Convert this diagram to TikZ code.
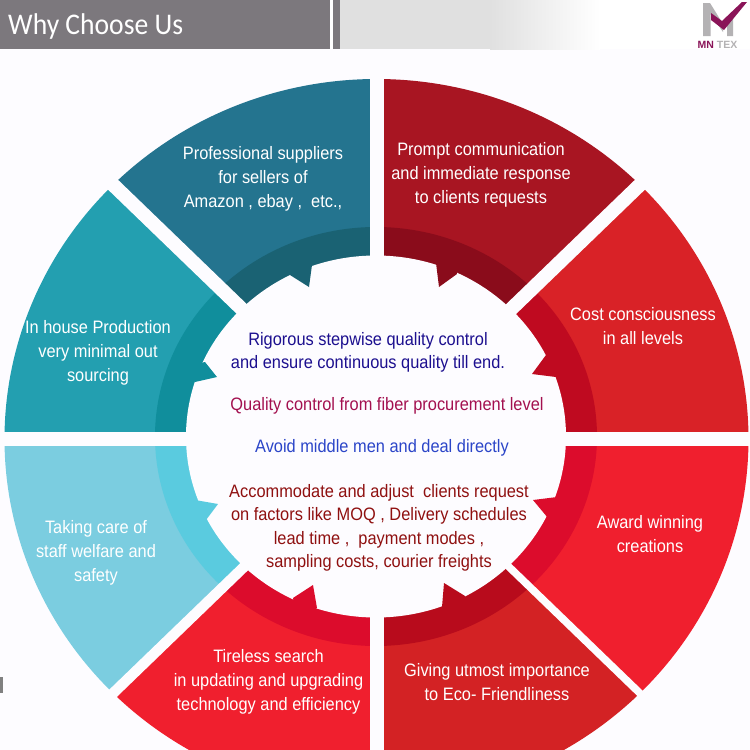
\documentclass[tikz,border=0pt]{standalone}
\usepackage{fontspec}
\setmainfont[FakeStretch=0.91]{Liberation Sans}
\newfontfamily\titlefont[FakeStretch=0.92]{Carlito}
\newfontfamily\logofont{Liberation Sans}
\usetikzlibrary{calc}

\definecolor{paper}{HTML}{FDFCFF}
\definecolor{headgray}{HTML}{7C787D}
\definecolor{headlight}{HTML}{E0E0E0}
\definecolor{logomag}{HTML}{8A1458}
\definecolor{logogray}{HTML}{B4B2B4}

\begin{document}
\begin{tikzpicture}[x=1pt, y=-1pt,
  wedgetext/.style={align=center, text=white, font=\fontsize{18}{24}\selectfont},
  hubtext/.style={align=center, font=\fontsize{18}{23.5}\selectfont},
  gapline/.style={draw=paper, line cap=butt}]
  \useasboundingbox (0,0) rectangle (750,750);
  \clip (0,0) rectangle (750,750);
  \fill[paper] (0,0) rectangle (750,750);
  \coordinate (hub) at (376.5,439);
  \coordinate (ring) at (376,436.5);

  \foreach \a/\outer/\inner in {
    -45/D92227/BF0A20, 0/F01F2E/DC0C2C, 45/D32224/B80B1C, 90/F01F2E/DC0C2C,
    135/7BCDE0/5ACBDF, 180/239FB0/108E9C, 225/24748F/1A6273, 270/A81522/8A0C1B} {
    \definecolor{outercol}{HTML}{\outer}
    \definecolor{innercol}{HTML}{\inner}
    \fill[outercol] (hub) -- ($(hub)+(\a:372 and 360)$)
      arc[start angle=\a, delta angle=45, x radius=372, y radius=360] -- cycle;
    \fill[innercol] (ring) -- ($(ring)+(\a:221 and 209.5)$)
      arc[start angle=\a, delta angle=45, x radius=221, y radius=209.5] -- cycle;
  }
  \fill[paper] (ring) ellipse[x radius=190, y radius=181];

  \foreach \px/\py/\tx/\ty/\qx/\qy/\inner in {
    290/275/309/287/312/265/1A6273, 436/263/439/287/457/274/8A0C1B,
    546/355/532/374/556/377/BF0A20, 557/497/533/500/548/518/DC0C2C,
    465/596/444/583/442/607/B80B1C, 293/598/313/585/317/608/DC0C2C,
    195/500/218/504/206/520/5ACBDF, 205/362/217/377/195/382/108E9C} {
    \definecolor{innercol}{HTML}{\inner}
    \fill[innercol] (\px,\py) -- (\tx,\ty) -- (\qx,\qy)
      -- ($(\px,\py)!0.5!(\qx,\qy)!-1!(\tx,\ty)$) -- cycle;
  }

  \foreach \a/\w in {0/14, 45/7.5, 90/14, 135/10.5, 180/14, 225/14, 270/14, 315/14}
    \draw[gapline, line width=\w pt] (hub) -- ($(hub)+(\a:430 and 415)$);

  \fill[headgray] (0,0) rectangle (330,49);
  \fill[white] (330,0) rectangle (333,49);
  \fill[headgray] (333,0) rectangle (340,49);
  \fill[headlight] (340,0) rectangle (490,49);
  \fill[left color=headlight, right color=white] (490,0) rectangle (600,49);
  \fill[white] (600,0) rectangle (750,49);

  \fill[logogray] (703,3) -- (710,3) -- (723,24) -- (723,32) -- (710.5,14) -- (710.5,36) -- (703,36) -- cycle;
  \fill[logogray] (727,22) -- (733,17) -- (733,36) -- (727,36) -- cycle;
  \fill[logomag] (711,13) -- (722,21) -- (742,2) -- (747,2) -- (724,30) -- (711,20) -- cycle;
  \node[inner sep=0pt, font=\logofont\fontsize{10.5}{10.5}\bfseries\selectfont] (logo) at (717.5,44.5)
    {\textcolor{logomag}{MN} \textcolor{logogray}{TEX}};
  \fill[gray] (0,677) rectangle (2.5,693);

  \node[inner sep=0pt, anchor=west, text=white, font=\titlefont\fontsize{30}{30}\selectfont]
    (title) at (8,26.5) {Why Choose Us};

  \node[wedgetext] (suppliers) at (263,179) {Professional suppliers\\for sellers of\\Amazon , ebay ,\ \ etc.,};
  \node[wedgetext] (prompt) at (481,175) {Prompt communication\\and immediate response\\to clients requests};
  \node[wedgetext] (cost) at (643,326) {Cost consciousness\\in all levels};
  \node[wedgetext] (award) at (650,534) {Award winning\\creations};
  \node[wedgetext] (eco) at (497,682) {Giving utmost importance\\to Eco- Friendliness};
  \node[wedgetext] (tireless) at (268.5,682) {Tireless search\\in updating and upgrading\\technology and efficiency};
  \node[wedgetext] (staff) at (96,553) {Taking care of\\staff welfare and\\safety};
  \node[wedgetext] (house) at (98,353) {In house Production\\very minimal out\\sourcing};

  \node[hubtext, text={rgb,255:red,28;green,15;blue,143}] (rigor) at (368,352.5)
    {Rigorous stepwise quality control\\and ensure continuous quality till end.};
  \node[hubtext, text={rgb,255:red,163;green,16;blue,79}] (fiber) at (387,406)
    {Quality control from fiber procurement level};
  \node[hubtext, text={rgb,255:red,43;green,69;blue,200}] (avoid) at (382,448)
    {Avoid middle men and deal directly};
  \node[hubtext, text={rgb,255:red,143;green,16;blue,16}] (adjust) at (379,528)
    {Accommodate and adjust\ \ clients request\\on factors like MOQ , Delivery schedules\\lead time ,\ \ payment modes ,\\sampling costs, courier freights};
\end{tikzpicture}
\end{document}
